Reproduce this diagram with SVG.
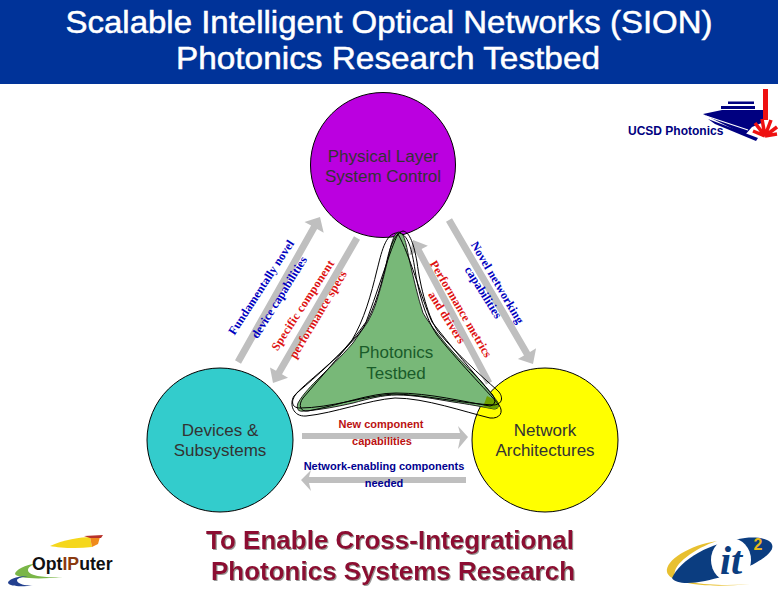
<svg xmlns="http://www.w3.org/2000/svg" width="778" height="590" viewBox="0 0 778 590">
<defs><filter id="sh" x="-5%" y="-20%" width="110%" height="140%"><feDropShadow dx="1" dy="1" stdDeviation="0.5" flood-color="#999"/></filter></defs>
<style>
.t{font-family:"Liberation Sans",Arial,sans-serif}
.c{font-size:17px;fill:#333;text-anchor:middle}
.r{font-family:"Liberation Serif",serif;font-weight:bold;font-size:12px;text-anchor:middle}
.b{fill:#0000c0}.d{fill:#dd1111}
.ar{fill:#bfbfbf}
.o{fill:none;stroke:#000;stroke-width:1}
.h{font-size:11px;font-weight:bold;text-anchor:middle}
.bt{font-size:26px;font-weight:bold;fill:#8c0a30;text-anchor:middle;filter:url(#sh)}
.ti{font-size:32px;fill:#fff;stroke:#fff;stroke-width:0.500;text-anchor:middle}
</style>
<rect width="778" height="590" fill="#fff"/>
<g id="header"><rect width="778" height="84" fill="#003399"/>
<text class="t ti" x="389" y="33" textLength="647" lengthAdjust="spacingAndGlyphs">Scalable Intelligent Optical Networks (SION)</text>
<text class="t ti" x="388" y="69" textLength="424" lengthAdjust="spacingAndGlyphs">Photonics Research Testbed</text></g>
<g id="ucsd">
<path d="M728 101.5h26v2.500h-26zM721 106h34v3h-34z" fill="#000080"/>
<path d="M703 114L722 110H764V122L752 127L745 135Z" fill="#000080"/>
<path d="M706 116L748 130" stroke="#fff" stroke-width="1.200"/>
<path d="M708 119L758 138L756 141L715 124Z" fill="#000080"/>
<rect x="763" y="89" width="5" height="31" fill="#ee1111"/>
<path d="M765 136L753 131M765 136L755 123M765 136L762 119M765 136L771 120M765 136L777 127M765 136L777 134" stroke="#ee1111" stroke-width="3.500" fill="none"/>
<text class="t" x="628" y="135" font-size="12" font-weight="bold" fill="#000080">UCSD Photonics</text></g>
<g id="physical"><circle cx="383" cy="165" r="72.500" fill="#bb00e0" stroke="#000"/>
<text class="t c" x="383" y="162">Physical Layer</text><text class="t c" x="383" y="182">System Control</text></g>
<g id="devices"><ellipse cx="220" cy="440" rx="73" ry="72" fill="#33cccc" stroke="#000"/>
<text class="t c" x="220" y="436">Devices &amp;</text><text class="t c" x="220" y="456">Subsystems</text></g>
<g id="network"><ellipse cx="545" cy="440" rx="73" ry="72" fill="#ffff00" stroke="#000"/>
<text class="t c" x="545" y="436">Network</text><text class="t c" x="545" y="456">Architectures</text></g>
<g id="connectors">
<path class="ar" d="M241 363.800L317.100 229.100L323.700 232.800L320 217L304.500 222L311.100 225.600L235 360.200Z"/>
<path class="ar" d="M360 239.800L282 374.300L288 377.800L273 383L270 367.400L276 370.800L354 236.200Z"/>
<path class="ar" d="M452 218.200L530 351.900L536.100 348.300L533 364L517.900 358.900L524 355.400L446 221.800Z"/>
<path class="ar" d="M492 381.400L421.600 249L427.900 245.700L413 240L409.300 255.500L415.600 252.200L486 384.600Z"/>
<path class="ar" d="M302 433H460L458 426L468 437L458 449L460 439H302Z"/>
<path class="ar" d="M466 477H309L311 470L301 480L311 491L309 483H466Z"/>
</g>
<g id="testbed">
<path d="M399 232C393 232 390 250 387 263C383 280 380 290 377 300C374 310 370 318 367 323C362 330 358 336 353 343C340 358 330 367 320 377C312 385 303 394 298 403C296 409 298 412 304 411C320 410 340 406 353 403C368 399 382 395 397 395C415 395 435 399 453 402C468 404 483 407 494 409C499 409 500 405 497 401C492 395 487 388 480 380C465 365 450 350 437 333C431 325 427 320 423 313C418 298 414 280 410 263C407 250 405 232 399 232Z" fill="#78b878" stroke="#222"/>
<path d="M487 396L497 401C500 405 499 409 494 409L483 407Z" fill="#70a000"/>
<path class="o" d="M398 233C385 232 381 255 377 270C371 295 364 320 352 340C335 362 306 382 294 396C289 404 293 417 306 416C335 413 368 400 395 398C425 398 465 412 490 418C500 419 504 412 499 405C488 392 455 358 437 335C425 318 418 290 415 270C412 250 408 233 398 233Z"/>
<path class="o" d="M403 231C394 233 389 250 386 265C380 290 372 318 358 335C342 353 316 377 298 392C290 400 291 408 300 408C330 408 365 396 393 394C420 394 465 404 494 405C504 404 503 395 497 390C480 375 455 352 440 334C428 320 420 285 417 262C414 245 410 232 403 231Z"/>
<path class="o" d="M398 234C390 250 380 285 366 322C350 345 320 378 303 398C298 405 300 412 308 411C340 405 370 393 396 393C430 393 465 402 490 406C496 405 496 399 492 394C475 375 450 345 432 322C420 295 410 255 398 234Z"/>
<text class="t" x="396" y="358" font-size="17" fill="#1a5c2a" text-anchor="middle">Photonics</text>
<text class="t" x="396" y="379" font-size="17" fill="#1a5c2a" text-anchor="middle">Testbed</text></g>
<g id="labels">
<text class="r b" transform="translate(264.500,289.500) rotate(-57)" textLength="110" lengthAdjust="spacing">Fundamentally novel</text>
<text class="r b" transform="translate(282.500,299.500) rotate(-58)" textLength="94" lengthAdjust="spacing">device capabilities</text>
<text class="r d" transform="translate(306,307.500) rotate(-57)" textLength="105" lengthAdjust="spacing">Specific component</text>
<text class="r d" transform="translate(321.500,316.500) rotate(-59)" textLength="100" lengthAdjust="spacing">performance specs</text>
<text class="r b" transform="translate(494,284.500) rotate(59.500)" textLength="93" lengthAdjust="spacing">Novel networking</text>
<text class="r b" transform="translate(480,294.500) rotate(58)" textLength="59" lengthAdjust="spacing">capabilities</text>
<text class="r d" transform="translate(457.500,311) rotate(59.500)" textLength="110" lengthAdjust="spacing">Performance metrics</text>
<text class="r d" transform="translate(443.500,319.500) rotate(58)" textLength="59" lengthAdjust="spacing">and drivers</text>
<text class="t h" x="381" y="428" fill="#bb1111">New component</text>
<text class="t h" x="382" y="445" fill="#bb1111">capabilities</text>
<text class="t h" x="384" y="470" fill="#000090">Network-enabling components</text>
<text class="t h" x="384" y="487" fill="#000090">needed</text>
</g>
<g id="bottom">
<text class="t bt" x="390" y="549">To Enable Cross-Integrational</text>
<text class="t bt" x="393" y="580">Photonics Systems Research</text>
</g>
<g id="optiputer">
<path d="M50 546C62 540 82 537 90 537L92 547C77 549 60 548 50 546Z" fill="#f5d71c"/>
<path d="M90 537L100 537L98 544L92 547Z" fill="#ef8a1c"/>
<path d="M84 536L103 535L101 538L90 538Z" fill="#b8322a"/>
<path d="M37 563C25 565 15 570 15 574C17 578 35 580 63 577C45 578 28 576 28 570C28 567 32 565 37 563Z" fill="#7ab648"/>
<path d="M28 576C15 576 8 580 8 583C10 587 25 587 33 585C25 586 17 584 17 580C18 578 22 577 28 576Z" fill="#23408f"/>
<text class="t" x="32" y="570" font-size="17.700" font-weight="bold" fill="#111">Opt<tspan fill="#8a3a10">IP</tspan>uter</text>
</g>
<g id="it2">
<path d="M717 541C690 545 665 560 667 572C669 582 700 589 750 584C715 587 680 583 675 575C672 565 695 548 717 541Z" fill="#e8c030"/>
<path d="M672 578C680 560 710 542 745 538C765 536 778 542 770 552C762 562 735 575 705 581C690 584 675 584 672 578Z" fill="#0b3d80"/>
<ellipse cx="731" cy="560" rx="20" ry="22" fill="#fff"/>
<text x="731" y="574" font-family="Liberation Serif" font-style="italic" font-weight="bold" font-size="40" fill="#0b3d80" text-anchor="middle">it</text>
<text class="t" x="753.500" y="550" font-size="16" font-weight="bold" fill="#e5b81c">2</text>
</g>
</svg>
